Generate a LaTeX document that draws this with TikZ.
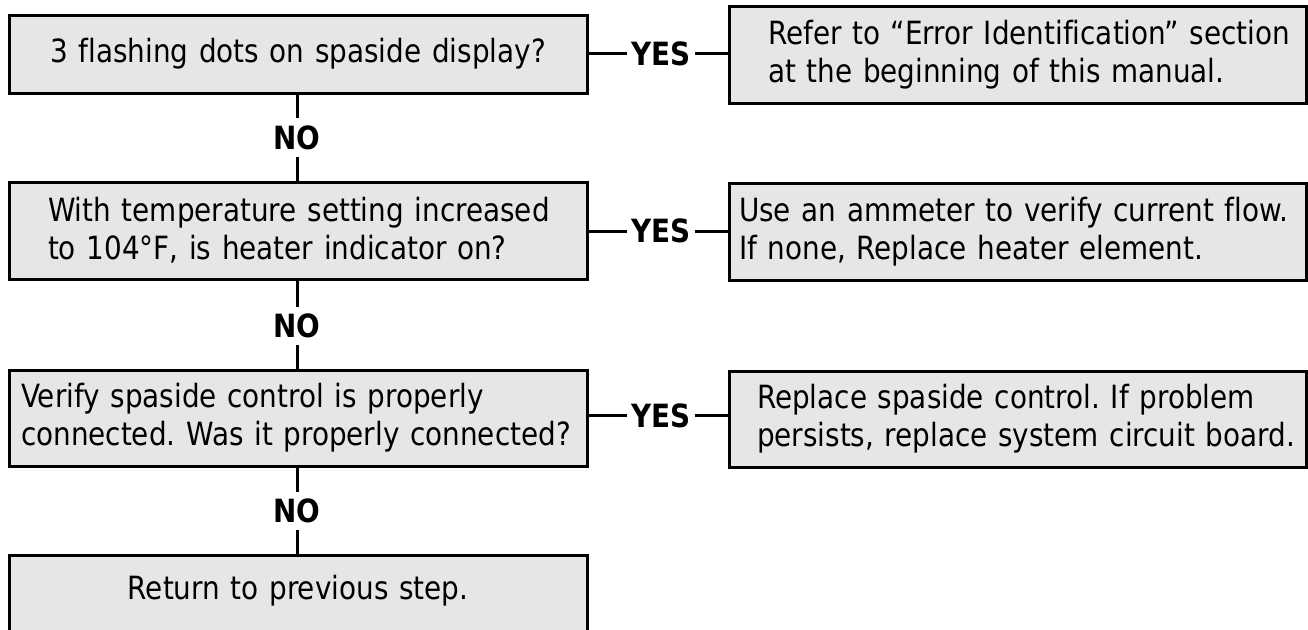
\documentclass[tikz,border=0pt]{standalone}
\usepackage{fontspec}
\setmainfont{DejaVu Sans}[FakeStretch=0.87,Ligatures=NoCommon]
\definecolor{boxgray}{RGB}{230,230,230}
\newcommand{\fsz}{\fontsize{32}{38}\selectfont\frenchspacing}
\begin{document}
\begin{tikzpicture}[x=1pt,y=-1pt,
  box/.style={draw=black, line width=3pt, fill=boxgray, inner ysep=0pt, font=\fsz},
  lbl/.style={font=\fsz\bfseries, inner xsep=4pt, inner ysep=7pt},
  conn/.style={line width=3pt}]
\useasboundingbox (0,0) rectangle (1308,629);
\clip (0,0) rectangle (1308,629);

% left column
\node[box, align=center, text width=558pt, inner xsep=10pt, minimum height=78pt] (b1) at (298,54)
  {3 flashing dots on spaside display?};
\node[box, align=left, text width=500pt, inner xsep=39pt, minimum height=97pt] (b2) at (298,230.5)
  {\mbox{With temperature setting increased}\\\mbox{to 104°F, is heater indicator on?}};
\node[box, align=left, text width=554pt, inner xsep=12pt, minimum height=96pt] (b3) at (298,418)
  {\mbox{Verify spaside control is properly}\\\mbox{connected. Was it properly connected?}};
\node[box, anchor=north, align=center, text width=558pt, inner xsep=10pt, text height=44pt, text depth=80pt] (b4) at (298,554)
  {Return to previous step.};

% right column
\node[box, align=left, text width=499pt, inner xsep=39pt, minimum height=97pt] (r1) at (1017.5,54.5)
  {\mbox{Refer to “Error Identification” section}\\\mbox{at the beginning of this manual.}};
\node[box, align=left, text width=557pt, inner xsep=10pt, minimum height=97pt] (r2) at (1017.5,231.5)
  {\mbox{Use an ammeter to verify current flow.}\\\mbox{If none, Replace heater element.}};
\node[box, align=left, text width=521pt, inner xsep=28pt, minimum height=96pt] (r3) at (1017.5,419)
  {\mbox{Replace spaside control. If problem}\\\mbox{persists, replace system circuit board.}};

% labels
\node[lbl] (no1) at (297,137.5) {NO};
\node[lbl] (no2) at (297,326) {NO};
\node[lbl] (no3) at (297,511) {NO};
\node[lbl] (yes1) at (661,53.5) {YES};
\node[lbl] (yes2) at (661,231) {YES};
\node[lbl] (yes3) at (661,415.5) {YES};

% connectors
\draw[conn] (b1.south -| no1) -- (no1.north);
\draw[conn] (no1.south) -- (b2.north -| no1);
\draw[conn] (b2.south -| no2) -- (no2.north);
\draw[conn] (no2.south) -- (b3.north -| no2);
\draw[conn] (b3.south -| no3) -- (no3.north);
\draw[conn] (no3.south) -- (b4.north -| no3);

\draw[conn] (yes1.west -| b1.east) -- (yes1.west);
\draw[conn] (yes1.east) -- (yes1.east -| r1.west);
\draw[conn] (yes2.west -| b2.east) -- (yes2.west);
\draw[conn] (yes2.east) -- (yes2.east -| r2.west);
\draw[conn] (yes3.west -| b3.east) -- (yes3.west);
\draw[conn] (yes3.east) -- (yes3.east -| r3.west);
\end{tikzpicture}
\end{document}
